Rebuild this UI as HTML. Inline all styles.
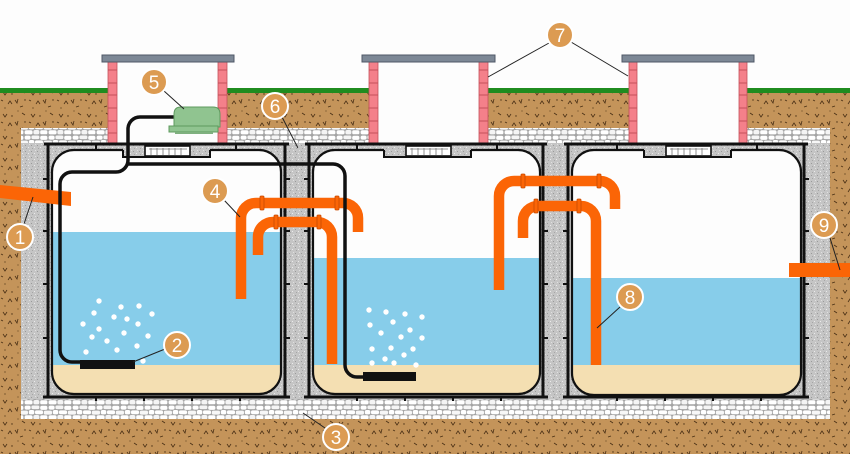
<!DOCTYPE html>
<html><head><meta charset="utf-8"><style>
html,body{margin:0;padding:0;background:#fff;}
svg{display:block;}
text{font-family:"Liberation Sans",sans-serif;}
</style></head><body>
<svg width="850" height="454" viewBox="0 0 850 454" xmlns="http://www.w3.org/2000/svg">
<defs>
<pattern id="soil" width="28" height="22" patternUnits="userSpaceOnUse">
<rect width="28" height="22" fill="#c4945a"/>
<path d="M3 4 l2 3 l2 -3 M15 12 l2 3 l1 -4 M22 3 l3 2 M8 16 l2 -3 l2 3 M20 19 l3 -1 M1 12 l2 1" stroke="#4a3015" stroke-width="0.8" fill="none"/>
<circle cx="12" cy="6" r="0.7" fill="#4a3015"/><circle cx="25" cy="12" r="0.7" fill="#4a3015"/><circle cx="5" cy="20" r="0.6" fill="#4a3015"/><circle cx="18" cy="1" r="0.6" fill="#6a4a25"/>
</pattern>
<pattern id="grav" width="24" height="15" patternUnits="userSpaceOnUse">
<rect width="24" height="15" fill="#a4a4a4"/>
<rect x="0.6" y="0.6" width="6" height="4" rx="1.8" fill="#fff"/>
<rect x="7.4" y="0.5" width="8" height="3.6" rx="1.6" fill="#f5f5f5"/>
<rect x="16.2" y="0.7" width="7.2" height="4.2" rx="1.8" fill="#fff"/>
<rect x="-2.5" y="5.6" width="6.5" height="4" rx="1.6" fill="#f7f7f7"/>
<rect x="4.8" y="5.0" width="5.5" height="4.4" rx="1.8" fill="#fff"/>
<rect x="11" y="5.4" width="8" height="3.8" rx="1.6" fill="#fff"/>
<rect x="19.8" y="5.6" width="6.5" height="4" rx="1.6" fill="#f7f7f7"/>
<rect x="0.6" y="10.2" width="8" height="4.2" rx="1.8" fill="#fff"/>
<rect x="9.4" y="10.0" width="6" height="4.4" rx="1.8" fill="#f4f4f4"/>
<rect x="16.2" y="10.3" width="7.2" height="4" rx="1.6" fill="#fff"/>
</pattern>
<pattern id="conc" width="6" height="6" patternUnits="userSpaceOnUse">
<rect width="6" height="6" fill="#c5c5c5"/>
<rect x="1" y="1" width="1" height="1" fill="#9a9a9a"/>
<rect x="4" y="3" width="1" height="1" fill="#ebebeb"/>
<rect x="2" y="4" width="1" height="1" fill="#a6a6a6"/>
<rect x="5" y="0" width="1" height="1" fill="#e0e0e0"/>
</pattern>
<clipPath id="c1"><rect x="52" y="150" width="229" height="244" rx="22"/></clipPath>
<clipPath id="c2"><rect x="313" y="150" width="227" height="244" rx="22"/></clipPath>
<clipPath id="c3"><rect x="572" y="150" width="229" height="245" rx="22"/></clipPath>
</defs>

<rect width="850" height="454" fill="#fdfdfd"/>
<rect x="0" y="93" width="850" height="361" fill="url(#soil)"/>
<rect x="0" y="88" width="850" height="5" fill="#1f8c1f"/>
<rect x="21" y="128" width="809" height="291" fill="url(#grav)"/>
<rect x="21" y="143" width="809" height="256" fill="url(#conc)"/>

<!-- chimney interiors -->
<rect x="117" y="62" width="101" height="82" fill="#fdfdfd"/>
<rect x="378" y="62" width="101" height="82" fill="#fdfdfd"/>
<rect x="637" y="62" width="102" height="82" fill="#fdfdfd"/>

<!-- bricks -->
<g fill="#f4808a" stroke="#c4505a" stroke-width="0.8">
<rect x="108" y="62" width="9" height="82"/><rect x="218" y="62" width="9" height="82"/>
<rect x="369" y="62" width="9" height="82"/><rect x="479" y="62" width="9" height="82"/>
<rect x="629" y="62" width="8" height="82"/><rect x="739" y="62" width="8" height="82"/>
</g>
<g stroke="#c4505a" stroke-width="1">
<path d="M108 70H117M108 83H117M108 95H117M108 108H117M108 121H117M108 133H117"/>
<path d="M218 70H227M218 83H227M218 95H227M218 108H227M218 121H227M218 133H227"/>
<path d="M369 70H378M369 83H378M369 95H378M369 108H378M369 121H378M369 133H378"/>
<path d="M479 70H488M479 83H488M479 95H488M479 108H488M479 121H488M479 133H488"/>
<path d="M629 70H637M629 83H637M629 95H637M629 108H637M629 121H637M629 133H637"/>
<path d="M739 70H747M739 83H747M739 95H747M739 108H747M739 121H747M739 133H747"/>
</g>
<!-- lids -->
<g fill="#7d8896" stroke="#4e5866" stroke-width="1">
<rect x="102" y="55" width="132" height="7"/>
<rect x="362" y="55" width="133" height="7"/>
<rect x="622" y="55" width="132" height="7"/>
</g>

<!-- tank fills -->
<g clip-path="url(#c1)">
<rect x="50" y="148" width="235" height="250" fill="#fdfdfd"/>
<rect x="50" y="232" width="235" height="133" fill="#87cdea"/>
<rect x="50" y="365" width="235" height="35" fill="#f4dfb2"/>
</g>
<g clip-path="url(#c2)">
<rect x="310" y="148" width="235" height="250" fill="#fdfdfd"/>
<rect x="310" y="258" width="235" height="107" fill="#87cdea"/>
<rect x="310" y="365" width="235" height="35" fill="#f4dfb2"/>
</g>
<g clip-path="url(#c3)">
<rect x="570" y="148" width="235" height="250" fill="#fdfdfd"/>
<rect x="570" y="278" width="235" height="87" fill="#87cdea"/>
<rect x="570" y="365" width="235" height="35" fill="#f4dfb2"/>
</g>
<g fill="none" stroke="#111" stroke-width="2.2">
<rect x="52" y="150" width="229" height="244" rx="22"/>
<rect x="313" y="150" width="227" height="244" rx="22"/>
<rect x="572" y="150" width="229" height="245" rx="22"/>
</g>

<!-- notches and hatches -->
<g>
<rect x="123" y="145" width="87" height="12" fill="url(#conc)"/>
<rect x="384" y="145" width="87" height="12" fill="url(#conc)"/>
<rect x="644" y="145" width="87" height="12" fill="url(#conc)"/>
<path d="M123 150V157H210V150M384 150V157H471V150M644 150V157H731V150" fill="none" stroke="#111" stroke-width="2"/>
<g fill="#fff" stroke="#111" stroke-width="1.6">
<rect x="145" y="146" width="45" height="10"/>
<rect x="406" y="146" width="45" height="10"/>
<rect x="666" y="146" width="45" height="10"/>
</g>
<g stroke="#777" stroke-width="0.8">
<path d="M151 148V155M157 148V155M163 148V155M169 148V155M175 148V155M181 148V155M149 149H187"/>
<path d="M412 148V155M418 148V155M424 148V155M430 148V155M436 148V155M442 148V155M410 149H448"/>
<path d="M672 148V155M678 148V155M684 148V155M690 148V155M696 148V155M702 148V155M670 149H708"/>
</g>
</g>

<!-- frames -->
<g fill="none" stroke="#111" stroke-width="3">
<path d="M44 144H289M48 144V397M285 144V397M43 397H290"/>
<path d="M305 144H547M309 144V397M543 144V397M304 397H548"/>
<path d="M564 144H808M568 144V397M804 144V397M563 397H809"/>
</g>
<g stroke="#111" stroke-width="2">
<path d="M96 144V150M236 144V150M357 144V150M497 144V150M617 144V150M757 144V150"/>
<path d="M43 179H48M43 231H48M43 284H48M43 338H48"/>
<path d="M285 179H290M285 231H290M285 284H290M285 338H290"/>
<path d="M304 179H309M304 231H309M304 284H309M304 338H309"/>
<path d="M543 179H548M543 231H548M543 284H548M543 338H548"/>
<path d="M563 179H568M563 231H568M563 284H568M563 338H568"/>
<path d="M804 179H809M804 231H809M804 284H809M804 338H809"/>
<path d="M96 397V401M144 397V401M192 397V401M240 397V401M357 397V401M405 397V401M453 397V401M501 397V401M617 397V401M665 397V401M713 397V401M761 397V401"/>
</g>

<!-- orange pipes -->
<polygon points="0,185 71,192 71,206 0,198" fill="#fb6506"/>
<rect x="789" y="263" width="61" height="14" fill="#fb6506"/>
<g fill="none" stroke="#fb6506" stroke-width="10.5">
<path d="M241 299V218A15 15 0 0 1 256 203H343A15 15 0 0 1 358 218V232"/>
<path d="M258 255V237A15 15 0 0 1 273 222H317A15 15 0 0 1 332 237V364"/>
<path d="M499 290V196A15 15 0 0 1 514 181H600A15 15 0 0 1 615 196V209"/>
<path d="M523 238V221A15 15 0 0 1 538 206H581A15 15 0 0 1 596 221V365"/>
</g>
<g fill="#fb6506" stroke="#c84a00" stroke-width="0.8">
<rect x="260" y="196" width="4" height="14" rx="1"/><rect x="335" y="196" width="4" height="14" rx="1"/>
<rect x="274" y="215" width="4" height="14" rx="1"/><rect x="317" y="215" width="4" height="14" rx="1"/>
<rect x="521" y="174" width="4" height="14" rx="1"/><rect x="597" y="174" width="4" height="14" rx="1"/>
<rect x="534" y="199" width="4" height="14" rx="1"/><rect x="577" y="199" width="4" height="14" rx="1"/>
</g>

<!-- air pipes -->
<g fill="none" stroke="#111" stroke-width="3.5">
<path d="M176 117H140A12 12 0 0 0 128 129V160A12 12 0 0 1 116 172H72A12 12 0 0 0 60 184V350A12 12 0 0 0 72 362H84"/>
<path d="M128 164H333A12 12 0 0 1 345 176V365A12 12 0 0 0 357 377H366"/>
</g>
<rect x="80" y="360" width="55" height="9" fill="#111"/>
<rect x="363" y="372" width="53" height="9" fill="#111"/>

<!-- compressor -->
<path d="M174 127V114Q174 107 181 107H213Q220 107 220 114V127Z" fill="#90c490" stroke="#5e9a5e" stroke-width="1"/>
<rect x="169" y="126" width="49" height="6" fill="#90c490" stroke="#5e9a5e" stroke-width="1"/>
<rect x="175" y="132" width="38" height="2" fill="#7fb07f"/>

<!-- bubbles -->
<g fill="#fff">
<circle cx="99" cy="301" r="2.7"/><circle cx="121" cy="307" r="2.7"/><circle cx="139" cy="306" r="2.7"/><circle cx="94" cy="313" r="2.7"/><circle cx="152" cy="314" r="2.7"/><circle cx="114" cy="317" r="2.7"/><circle cx="127" cy="319" r="2.7"/><circle cx="83" cy="324" r="2.7"/><circle cx="138" cy="324" r="2.7"/><circle cx="99" cy="329" r="2.7"/><circle cx="124" cy="333" r="2.7"/><circle cx="148" cy="336" r="2.7"/><circle cx="92" cy="337" r="2.7"/><circle cx="107" cy="341" r="2.7"/><circle cx="137" cy="346" r="2.7"/><circle cx="117" cy="350" r="2.7"/><circle cx="86" cy="352" r="2.7"/><circle cx="143" cy="361" r="2.7"/>
<circle cx="369" cy="310" r="2.7"/><circle cx="386" cy="312" r="2.7"/><circle cx="405" cy="314" r="2.7"/><circle cx="422" cy="317" r="2.7"/><circle cx="370" cy="325" r="2.7"/><circle cx="393" cy="322" r="2.7"/><circle cx="410" cy="330" r="2.7"/><circle cx="381" cy="333" r="2.7"/><circle cx="401" cy="337" r="2.7"/><circle cx="422" cy="338" r="2.7"/><circle cx="372" cy="349" r="2.7"/><circle cx="391" cy="348" r="2.7"/><circle cx="413" cy="349" r="2.7"/><circle cx="404" cy="355" r="2.7"/><circle cx="385" cy="359" r="2.7"/><circle cx="372" cy="363" r="2.7"/><circle cx="394" cy="363" r="2.7"/><circle cx="416" cy="365" r="2.7"/>
</g>

<!-- leaders -->
<g stroke="#222" stroke-width="1" fill="none">
<path d="M24 224L33 197"/>
<path d="M165 349L133 362"/>
<path d="M325 428L303 413"/>
<path d="M224 200L240 217"/>
<path d="M164 91L184 109"/>
<path d="M282 117L298 148"/>
<path d="M549 43L488 77M571 42L628 76"/>
<path d="M620 307L597 328"/>
<path d="M830 238L840 270"/>
</g>

<!-- badges -->
<g fill="#dc9b52" stroke="#fff" stroke-width="2">
<circle cx="20" cy="237" r="13"/><circle cx="177" cy="345" r="13"/><circle cx="336" cy="437" r="13"/>
<circle cx="215" cy="191" r="13"/><circle cx="154" cy="82" r="13"/><circle cx="275" cy="106" r="13"/>
<circle cx="560" cy="35" r="13"/><circle cx="630" cy="297" r="13"/><circle cx="824" cy="225" r="13"/>
</g>
<g fill="#fff" font-size="19" text-anchor="middle">
<text x="20" y="244">1</text><text x="177" y="352">2</text><text x="336" y="444">3</text>
<text x="215" y="198">4</text><text x="154" y="89">5</text><text x="275" y="113">6</text>
<text x="560" y="42">7</text><text x="630" y="304">8</text><text x="824" y="232">9</text>
</g>
</svg>
</body></html>
